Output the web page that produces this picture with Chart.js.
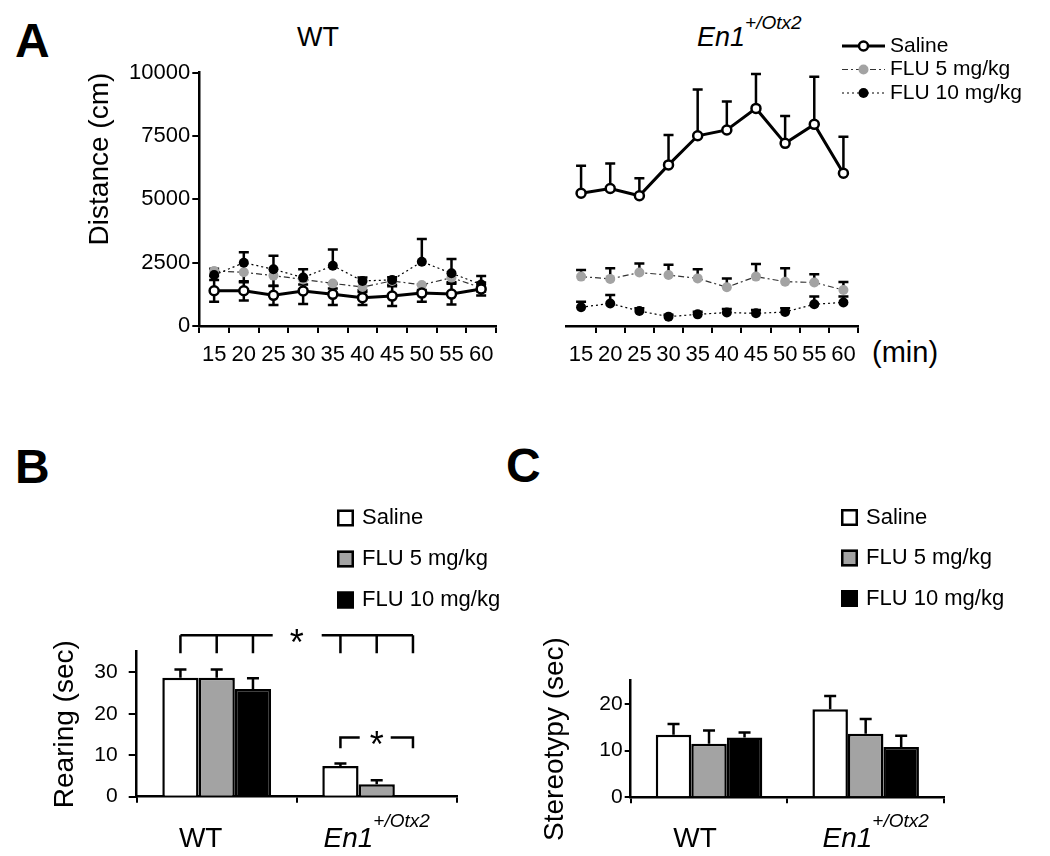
<!DOCTYPE html>
<html>
<head>
<meta charset="utf-8">
<script src="https://cdn.jsdelivr.net/npm/chart.js@4.4.1/dist/chart.umd.min.js"></script>
<style>
  body { margin: 0; background: #fff; }
  #fig { position: relative; width: 1050px; height: 856px; font-family: "Liberation Sans", Arial, sans-serif; color: #000; }
  #fig canvas { position: absolute; }
  .txt { position: absolute; line-height: 1; white-space: nowrap; }
  .letter { font-weight: bold; font-size: 48px; }
  .sup { font-size: 19px; position: relative; top: -17px; }
</style>
</head>
<body>
<div id="fig">
  <div class="txt letter" style="left:15px;top:17px">A</div>
  <div class="txt letter" style="left:15px;top:443px">B</div>
  <div class="txt letter" style="left:506px;top:442px">C</div>
  <div class="txt" style="left:297px;top:24px;font-size:27px">WT</div>
  <div class="txt" style="left:697px;top:24px;font-size:27px"><i>En1</i><i class="sup">+/Otx2</i></div>
  <div class="txt" style="left:872px;top:338px;font-size:29px">(min)</div>
  <canvas id="wtChart" width="520" height="390" style="left:0;top:0"></canvas>
  <canvas id="enChart" width="530" height="390" style="left:520px;top:0"></canvas>
  <canvas id="rearChart" width="520" height="416" style="left:0;top:440px"></canvas>
  <canvas id="stereoChart" width="530" height="416" style="left:520px;top:440px"></canvas>
</div>
<script>
// panel A: distance per 5 min bin (cm)
const minutes = ['15', '20', '25', '30', '35', '40', '45', '50', '55', '60'];
const distanceTicks = [0, 2500, 5000, 7500, 10000];

const wtSaline = [1390, 1390, 1210, 1380, 1250, 1120, 1180, 1300, 1260, 1460];
const wtSalineErr = [430, 380, 380, 510, 420, 290, 390, 340, 410, 260];
const wtFlu5 = [2170, 2120, 1990, 1840, 1680, 1540, 1780, 1620, 1910, 1510];
const wtFlu5Err = [200, 390, 410, 200, 200, 200, 150, 200, 180, 150];
const wtFlu10 = [2010, 2500, 2240, 1910, 2380, 1780, 1820, 2540, 2080, 1640];
const wtFlu10Err = [250, 410, 530, 330, 640, 130, 100, 890, 570, 330];

const enSaline = [5240, 5430, 5140, 6360, 7510, 7740, 8590, 7210, 7960, 6030];
const enSalineErr = [1090, 990, 690, 1180, 1830, 1120, 1360, 1080, 1880, 1440];
const enFlu5 = [1950, 1860, 2110, 2010, 1880, 1530, 1950, 1750, 1720, 1420];
const enFlu5Err = [260, 420, 360, 410, 360, 350, 500, 530, 320, 320];
const enFlu10 = [740, 890, 590, 370, 460, 530, 500, 550, 860, 930];
const enFlu10Err = [220, 330, 110, 70, 100, 140, 130, 150, 300, 230];

// panels B and C
const groups = ['WT', 'En1'];
const groupSup = ['', '+/Otx2'];
const treatments = ['Saline', 'FLU 5 mg/kg', 'FLU 10 mg/kg'];

const rearSaline = [28.7, 7.4];
const rearSalineErr = [2.0, 0.6];
const rearFlu5 = [28.7, 3.0];
const rearFlu5Err = [2.0, 1.0];
const rearFlu10 = [26.0, 0.4];
const rearFlu10Err = [2.6, 0];

const stereoSaline = [13.4, 18.9];
const stereoSalineErr = [2.3, 2.8];
const stereoFlu5 = [11.5, 13.6];
const stereoFlu5Err = [2.8, 3.2];
const stereoFlu10 = [12.8, 10.8];
const stereoFlu10Err = [1.1, 2.4];

Chart.defaults.font.family = '"Liberation Sans", Arial, sans-serif';
Chart.defaults.color = '#000';
Chart.defaults.animation = false;

function drawErrors(chart, opts) {
    const ctx = chart.ctx;
    const y = chart.scales.y;
    ctx.save();
    ctx.strokeStyle = '#000';
    ctx.lineWidth = opts.lineWidth;
    chart.data.datasets.forEach((ds, d) => {
        const meta = chart.getDatasetMeta(d);
        meta.data.forEach((el, i) => {
            const v = ds.data[i];
            [[ds.errUp, 1], [ds.errDown, -1]].forEach(([errs, s]) => {
                if (!errs || !errs[i]) return;
                const y0 = y.getPixelForValue(v);
                const y1 = y.getPixelForValue(v + s * errs[i]);
                ctx.beginPath();
                ctx.moveTo(el.x, y0);
                ctx.lineTo(el.x, y1);
                ctx.moveTo(el.x - opts.cap, y1);
                ctx.lineTo(el.x + opts.cap, y1);
                ctx.stroke();
            });
        });
    });
    ctx.restore();
}

const errorBars = {
    id: 'errorBars',
    beforeDatasetsDraw(chart, args, opts) { if (opts.under) drawErrors(chart, opts); },
    afterDatasetsDraw(chart, args, opts) { if (!opts.under) drawErrors(chart, opts); }
};

// legend with line + marker samples (panel A)
const lineLegend = {
    id: 'lineLegend',
    afterDraw(chart, args, o) {
        if (!o.show) return;
        const ctx = chart.ctx;
        chart.data.datasets.forEach((ds, i) => {
            const yy = o.y + i * o.gap;
            ctx.save();
            ctx.strokeStyle = ds.borderColor;
            ctx.lineWidth = ds.borderWidth;
            ctx.setLineDash(ds.borderDash || []);
            ctx.beginPath();
            ctx.moveTo(o.x, yy);
            ctx.lineTo(o.x + o.len, yy);
            ctx.stroke();
            ctx.setLineDash([]);
            ctx.beginPath();
            ctx.arc(o.x + o.len / 2, yy, ds.pointRadius, 0, Math.PI * 2);
            ctx.fillStyle = ds.pointBackgroundColor;
            ctx.fill();
            if (ds.pointBorderWidth) {
                ctx.lineWidth = ds.pointBorderWidth;
                ctx.strokeStyle = ds.pointBorderColor;
                ctx.stroke();
            }
            ctx.fillStyle = '#000';
            ctx.font = o.font;
            ctx.textBaseline = 'middle';
            ctx.fillText(ds.label, o.textX, yy);
            ctx.restore();
        });
    }
};

// legend with boxes (panels B, C)
const boxLegend = {
    id: 'boxLegend',
    afterDraw(chart, args, o) {
        const ctx = chart.ctx;
        chart.data.datasets.forEach((ds, i) => {
            const yy = o.y + i * o.gap;
            const s = o.size;
            ctx.save();
            ctx.fillStyle = ds.backgroundColor;
            ctx.fillRect(o.x, yy - s / 2, s, s);
            ctx.lineWidth = 2.5;
            ctx.strokeStyle = '#000';
            ctx.strokeRect(o.x + 1.25, yy - s / 2 + 1.25, s - 2.5, s - 2.5);
            ctx.fillStyle = '#000';
            ctx.font = o.font;
            ctx.textBaseline = 'middle';
            ctx.fillText(ds.label, o.textX, yy);
            ctx.restore();
        });
    }
};

// group names under the bars, with italic gene name + superscript
const groupLabels = {
    id: 'groupLabels',
    afterDraw(chart, args, o) {
        const ctx = chart.ctx;
        const x = chart.scales.x;
        chart.data.labels.forEach((lab, i) => {
            const sup = groupSup[i];
            const mainFont = (sup ? 'italic ' : '') + '28px "Liberation Sans", Arial, sans-serif';
            const supFont = 'italic 19px "Liberation Sans", Arial, sans-serif';
            ctx.save();
            ctx.font = mainFont;
            const w1 = ctx.measureText(lab).width;
            ctx.font = supFont;
            const w2 = sup ? ctx.measureText(sup).width : 0;
            const left = x.getPixelForValue(i) + o.shift[i] - (w1 + w2) / 2;
            ctx.fillStyle = '#000';
            ctx.textBaseline = 'alphabetic';
            ctx.font = mainFont;
            ctx.fillText(lab, left, o.baseline);
            if (sup) {
                ctx.font = supFont;
                ctx.fillText(sup, left + w1, o.baseline - 20);
            }
            ctx.restore();
        });
    }
};

// significance brackets on panel B
const bracketTop = [39, 34.6];
const bracketLow = [14.3, 11.7];
const brackets = {
    id: 'brackets',
    afterDraw(chart) {
        const ctx = chart.ctx;
        const y = chart.scales.y;
        const x = chart.scales.x;
        const cx = (d, i) => chart.getDatasetMeta(d).data[i].x;
        const star = (sx, sy) => {
            ctx.font = '36px "Liberation Sans", Arial, sans-serif';
            ctx.textAlign = 'center';
            ctx.textBaseline = 'alphabetic';
            ctx.fillText('*', sx, sy + 20);
        };
        ctx.save();
        ctx.strokeStyle = '#000';
        ctx.fillStyle = '#000';
        ctx.lineWidth = 2.5;

        // WT vs En1, all treatments
        const ty = y.getPixelForValue(bracketTop[0]);
        const tb = y.getPixelForValue(bracketTop[1]);
        const mid = (x.getPixelForValue(0) + x.getPixelForValue(1)) / 2;
        const x0 = cx(0, 0);
        const x1 = cx(2, 1);
        ctx.beginPath();
        ctx.moveTo(x0, ty);
        ctx.lineTo(mid - 24, ty);
        ctx.moveTo(mid + 25, ty);
        ctx.lineTo(x1, ty);
        for (let d = 0; d < 3; d++) {
            for (let g = 0; g < 2; g++) {
                ctx.moveTo(cx(d, g), ty);
                ctx.lineTo(cx(d, g), tb);
            }
        }
        ctx.stroke();
        star(mid, ty);

        // En1 saline vs FLU 10
        const ly = y.getPixelForValue(bracketLow[0]);
        const lb = y.getPixelForValue(bracketLow[1]);
        const s0 = cx(0, 1);
        const s1 = cx(2, 1);
        const sm = cx(1, 1);
        ctx.beginPath();
        ctx.moveTo(s0, lb);
        ctx.lineTo(s0, ly);
        ctx.lineTo(sm - 17, ly);
        ctx.moveTo(sm + 14, ly);
        ctx.lineTo(s1, ly);
        ctx.lineTo(s1, lb);
        ctx.stroke();
        star(sm, ly);
        ctx.restore();
    }
};

function axisGrid(len, offset, color) {
    return {
        display: true,
        drawOnChartArea: false,
        drawTicks: true,
        tickLength: len,
        color: color || '#000',
        lineWidth: 2,
        offset: offset
    };
}

function lineSets(saline, salineErr, flu5, flu5Err, flu10, flu10Err, wt) {
    return [
        {
            label: treatments[0],
            data: saline,
            errUp: salineErr,
            errDown: wt ? salineErr : null,
            borderColor: '#000',
            borderWidth: 3,
            pointRadius: 4.5,
            pointBackgroundColor: '#fff',
            pointBorderColor: '#000',
            pointBorderWidth: 2.5,
            order: 0
        },
        {
            label: treatments[1],
            data: flu5,
            errUp: wt ? null : flu5Err,
            errDown: wt ? flu5Err : null,
            borderColor: '#333',
            borderWidth: 1.2,
            borderDash: [6, 3, 2, 3],
            pointRadius: 5,
            pointBackgroundColor: '#a3a3a3',
            pointBorderColor: '#a3a3a3',
            pointBorderWidth: 0,
            order: 2
        },
        {
            label: treatments[2],
            data: flu10,
            errUp: flu10Err,
            borderColor: '#000',
            borderWidth: 1.2,
            borderDash: [2, 3],
            pointRadius: 5,
            pointBackgroundColor: '#000',
            pointBorderColor: '#000',
            pointBorderWidth: 0,
            order: 1
        }
    ];
}

new Chart(document.getElementById('wtChart'), {
    type: 'line',
    data: {
        labels: minutes,
        datasets: lineSets(wtSaline, wtSalineErr, wtFlu5, wtFlu5Err, wtFlu10, wtFlu10Err, true)
    },
    plugins: [errorBars, lineLegend],
    options: {
        responsive: false,
        events: [],
        layout: { autoPadding: false, padding: { left: 0, top: 72.7, right: 24, bottom: 0 } },
        scales: {
            x: {
                offset: true,
                grid: axisGrid(7, true),
                border: { display: true, color: '#000', width: 2.5 },
                ticks: { font: { size: 22 }, padding: 9, autoSkip: false, maxRotation: 0 },
                afterFit: s => { s.height = 64; }
            },
            y: {
                min: 0,
                max: 10000,
                afterBuildTicks: s => { s.ticks = distanceTicks.map(v => ({ value: v })); },
                grid: axisGrid(7, false),
                border: { display: true, color: '#000', width: 2.5 },
                ticks: { font: { size: 22 }, padding: 2, callback: v => String(v) },
                title: {
                    display: true,
                    text: 'Distance (cm)',
                    font: { size: 28 },
                    align: 'end',
                    padding: { top: 83, bottom: 0 }
                },
                afterFit: s => { s.width = 199.3; }
            }
        },
        plugins: {
            legend: { display: false },
            tooltip: { enabled: false },
            errorBars: { under: true, lineWidth: 2.5, cap: 5 },
            lineLegend: { show: false }
        }
    }
});

new Chart(document.getElementById('enChart'), {
    type: 'line',
    data: {
        labels: minutes,
        datasets: lineSets(enSaline, enSalineErr, enFlu5, enFlu5Err, enFlu10, enFlu10Err, false)
    },
    plugins: [errorBars, lineLegend],
    options: {
        responsive: false,
        events: [],
        layout: { autoPadding: false, padding: { left: 46.5, top: 72.7, right: 192, bottom: 0 } },
        scales: {
            x: {
                offset: true,
                grid: axisGrid(7, true, c => c.index === 0 ? 'rgba(0,0,0,0)' : '#000'),
                border: { display: true, color: '#000', width: 2.5 },
                ticks: { font: { size: 22 }, padding: 9, autoSkip: false, maxRotation: 0 },
                afterFit: s => { s.height = 64; }
            },
            y: { display: false, min: 0, max: 10000 }
        },
        plugins: {
            legend: { display: false },
            tooltip: { enabled: false },
            errorBars: { under: true, lineWidth: 2.5, cap: 5 },
            lineLegend: { show: true, x: 322, len: 43, textX: 370, y: 46, gap: 23.5, font: '21px "Liberation Sans", Arial, sans-serif' }
        }
    }
});

function barSets(a, aErr, b, bErr, c, cErr) {
    const base = { borderColor: '#000', borderWidth: 2.5, barPercentage: 1, categoryPercentage: 0.68 };
    return [
        Object.assign({ label: treatments[0], data: a, errUp: aErr, backgroundColor: '#fff' }, base),
        Object.assign({ label: treatments[1], data: b, errUp: bErr, backgroundColor: '#a3a3a3' }, base),
        Object.assign({ label: treatments[2], data: c, errUp: cErr, backgroundColor: '#000' }, base)
    ];
}

function barOptions(cfg) {
    return {
        responsive: false,
        events: [],
        layout: { autoPadding: false, padding: { left: 0, top: cfg.top, right: cfg.right, bottom: 0 } },
        scales: {
            x: {
                grid: axisGrid(6, true),
                border: { display: true, color: '#000', width: 2.5 },
                ticks: { display: false },
                afterFit: s => { s.height = cfg.xHeight; }
            },
            y: {
                min: 0,
                max: cfg.max,
                ticks: {
                    stepSize: 5,
                    font: { size: 21 },
                    padding: cfg.tickPad,
                    callback: v => (v % 10 === 0 ? String(v) : '')
                },
                grid: axisGrid(cfg.tickLen, false),
                border: { display: true, color: '#000', width: 2.5 },
                title: {
                    display: true,
                    text: cfg.title,
                    font: { size: 28 },
                    padding: { top: cfg.titlePad, bottom: 0 }
                },
                afterFit: s => { s.width = cfg.yWidth; }
            }
        },
        plugins: {
            legend: { display: false },
            tooltip: { enabled: false },
            errorBars: { under: false, lineWidth: 2.5, cap: 6 },
            boxLegend: cfg.legend,
            groupLabels: { baseline: 407, shift: cfg.labelShift }
        }
    };
}

new Chart(document.getElementById('rearChart'), {
    type: 'bar',
    data: { labels: groups, datasets: barSets(rearSaline, rearSalineErr, rearFlu5, rearFlu5Err, rearFlu10, rearFlu10Err) },
    plugins: [errorBars, boxLegend, groupLabels, brackets],
    options: barOptions({
        top: 211.7, right: 63.3, xHeight: 59.3, yWidth: 136.7, max: 35,
        tickPad: 11, tickLen: 8, title: 'Rearing (sec)', titlePad: 48, labelShift: [-16, 0],
        legend: { x: 337, size: 17, textX: 362, y: 78, gap: 41, font: '22px "Liberation Sans", Arial, sans-serif' }
    })
});

new Chart(document.getElementById('stereoChart'), {
    type: 'bar',
    data: { labels: groups, datasets: barSets(stereoSaline, stereoSalineErr, stereoFlu5, stereoFlu5Err, stereoFlu10, stereoFlu10Err) },
    plugins: [errorBars, boxLegend, groupLabels],
    options: barOptions({
        top: 240.7, right: 106, xHeight: 58.7, yWidth: 110.7, max: 25,
        tickPad: 2, tickLen: 6, title: 'Stereotypy (sec)', titlePad: 18, labelShift: [-14, 10],
        legend: { x: 321, size: 17, textX: 346, y: 77.5, gap: 40.5, font: '22px "Liberation Sans", Arial, sans-serif' }
    })
});
</script>
</body>
</html>
